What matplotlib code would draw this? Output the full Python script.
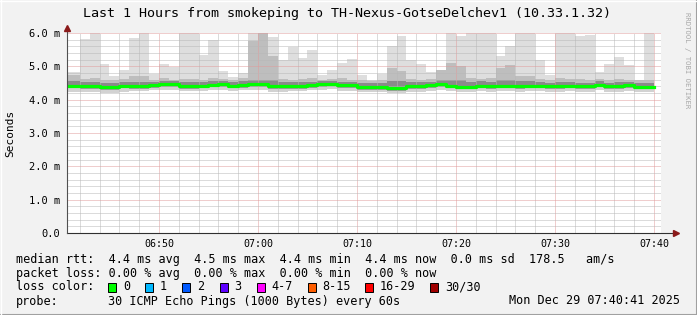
import numpy as np
import matplotlib
matplotlib.use('Agg')
import matplotlib.pyplot as plt
from matplotlib.patches import Rectangle
from matplotlib.ticker import MultipleLocator, FixedLocator

# one value per minute, minute 0 = 06:40
tops = [4.82, 4.82, 5.83, 6.0, 5.08, 4.72, 4.9, 5.86, 6.0, 4.78,
        5.08, 4.97, 6.0, 6.0, 5.35, 5.8, 4.87, 4.68, 4.8, 6.0,
        6.0, 5.88, 5.2, 5.57, 5.25, 5.5, 4.73, 4.9, 5.1, 5.22,
        4.75, 4.6, 4.78, 5.62, 5.92, 5.18, 5.08, 4.84, 4.87, 6.0,
        5.9, 6.0, 6.0, 6.0, 5.3, 5.6, 6.0, 6.0, 5.18, 4.75,
        6.0, 6.0, 5.92, 5.95, 4.84, 5.08, 5.27, 5.05, 4.6, 6.0]
upper = [4.75, 4.75, 4.62, 4.66, 4.6, 4.58, 4.62, 4.7, 4.7, 4.6,
         4.64, 4.6, 4.62, 4.62, 4.6, 4.65, 4.62, 4.6, 4.64, 5.77,
         6.0, 5.3, 4.62, 4.6, 4.62, 4.64, 4.6, 4.62, 4.65, 4.6,
         4.58, 4.56, 4.58, 4.95, 4.85, 4.62, 4.6, 4.62, 4.9, 5.1,
         5.0, 4.66, 4.62, 4.64, 4.95, 5.05, 4.7, 4.7, 4.62, 4.6,
         4.65, 4.62, 4.62, 4.6, 4.62, 4.6, 4.62, 4.6, 4.58, 4.6]
dark = [4.55, 4.55, 4.52, 4.52, 4.5, 4.5, 4.53, 4.53, 4.54, 4.54,
        4.56, 4.56, 4.52, 4.52, 4.53, 4.55, 4.57, 4.53, 4.55, 4.6,
        4.6, 4.58, 4.52, 4.52, 4.52, 4.54, 4.56, 4.57, 4.54, 4.53,
        4.5, 4.49, 4.5, 4.56, 4.55, 4.52, 4.52, 4.54, 4.58, 4.6,
        4.58, 4.52, 4.55, 4.53, 4.58, 4.6, 4.55, 4.55, 4.53, 4.51,
        4.53, 4.53, 4.51, 4.5, 4.55, 4.51, 4.52, 4.53, 4.5, 4.5]
median = [4.42, 4.42, 4.40, 4.40, 4.37, 4.37, 4.42, 4.40, 4.40, 4.44,
          4.47, 4.47, 4.40, 4.40, 4.42, 4.45, 4.47, 4.42, 4.44, 4.47,
          4.47, 4.40, 4.40, 4.41, 4.41, 4.44, 4.47, 4.48, 4.43, 4.43,
          4.38, 4.38, 4.38, 4.35, 4.35, 4.40, 4.40, 4.43, 4.47, 4.42,
          4.39, 4.39, 4.42, 4.40, 4.42, 4.42, 4.40, 4.42, 4.42, 4.40,
          4.40, 4.42, 4.40, 4.40, 4.45, 4.40, 4.40, 4.43, 4.39, 4.39]
lower = [4.34, 4.34, 4.33, 4.33, 4.3, 4.3, 4.34, 4.33, 4.33, 4.36,
         4.38, 4.38, 4.33, 4.33, 4.34, 4.37, 4.39, 4.34, 4.36, 4.38,
         4.38, 4.32, 4.32, 4.33, 4.33, 4.36, 4.39, 4.4, 4.35, 4.35,
         4.3, 4.3, 4.3, 4.27, 4.27, 4.32, 4.32, 4.35, 4.39, 4.34,
         4.31, 4.31, 4.34, 4.32, 4.34, 4.34, 4.32, 4.34, 4.34, 4.32,
         4.32, 4.34, 4.32, 4.32, 4.37, 4.32, 4.32, 4.35, 4.31, 4.31]
bottom = [4.22, 4.22, 4.24, 4.24, 4.2, 4.2, 4.22, 4.25, 4.25, 4.28,
          4.3, 4.3, 4.25, 4.25, 4.26, 4.28, 4.3, 4.26, 4.28, 4.3,
          4.3, 4.24, 4.24, 4.25, 4.25, 4.28, 4.3, 4.32, 4.27, 4.27,
          4.22, 4.22, 4.22, 4.2, 4.2, 4.24, 4.24, 4.27, 4.3, 4.26,
          4.24, 4.24, 4.26, 4.24, 4.26, 4.26, 4.24, 4.26, 4.26, 4.24,
          4.24, 4.26, 4.24, 4.24, 4.28, 4.24, 4.24, 4.27, 4.23, 4.23]

xtick_minutes = [10, 20, 30, 40, 50, 60]
xtick_labels = ['06:50', '07:00', '07:10', '07:20', '07:30', '07:40']
ytick_vals = [0, 1, 2, 3, 4, 5, 6]
ytick_labels = ['0.0', '1.0 m', '2.0 m', '3.0 m', '4.0 m', '5.0 m', '6.0 m']

title = 'Last 1 Hours from smokeping to TH-Nexus-GotseDelchev1 (10.33.1.32)'
rtt_line = 'median rtt:  4.4 ms avg  4.5 ms max  4.4 ms min  4.4 ms now  0.0 ms sd  178.5   am/s'
loss_line = 'packet loss: 0.00 % avg  0.00 % max  0.00 % min  0.00 % now'
probe_text = '30 ICMP Echo Pings (1000 Bytes) every 60s'
stamp = 'Mon Dec 29 07:40:41 2025'
loss_labels = ['0', '1', '2', '3', '4-7', '8-15', '16-29', '30/30']
loss_colors = ['#00ff00', '#00b8ff', '#0059ff', '#5e00ff', '#ff00fe', '#ff5e00', '#ff0000', '#a00000']

W, H = 697, 315
mono = 'DejaVu Sans Mono'
plt.rcParams['font.family'] = mono

def fx(x):
    return x / W

def fy(y):
    return 1 - y / H

fig = plt.figure(figsize=(W / 100, H / 100), dpi=100, facecolor='#f2f2f2')
ax = fig.add_axes([fx(66.7), fy(233), (660.7 - 66.7) / W, 200 / H])
ax.set_facecolor('white')

n = len(tops)
x = np.arange(n)
tops = np.array(tops); upper = np.array(upper); dark = np.array(dark)
median = np.array(median); lower = np.array(lower); bottom = np.array(bottom)

# smoke bands, light at the edges and darker near the median
kw = dict(width=1.0, align='edge', linewidth=0, zorder=1)
ax.bar(x, tops - upper, bottom=upper, color='#dedede', **kw)
ax.bar(x, upper - dark, bottom=dark, color='#bebebe', **kw)
ax.bar(x, dark - median, bottom=median, color='#8a8a8a', **kw)
ax.bar(x, median - lower, bottom=lower, color='#9c9c9c', **kw)
ax.bar(x, lower - bottom, bottom=bottom, color='#d2d2d2', **kw)

ax.step(np.append(x, n), np.append(median, median[-1]), where='post',
        color=loss_colors[0], linewidth=2.3, zorder=3)

ax.set_xlim(0.68, 60.68)
ax.set_ylim(0, 6)
ax.xaxis.set_major_locator(FixedLocator(xtick_minutes))
ax.set_xticklabels(xtick_labels)
ax.xaxis.set_minor_locator(MultipleLocator(2))
ax.yaxis.set_major_locator(FixedLocator(ytick_vals))
ax.set_yticklabels(ytick_labels)
ax.yaxis.set_minor_locator(MultipleLocator(0.2))
ax.tick_params(which='both', length=0)
ax.tick_params(axis='x', labelsize=7.2, pad=4, colors='#000000')
ax.tick_params(axis='y', labelsize=7.5, pad=4.5, colors='#000000')

ax.set_axisbelow(False)
ax.grid(which='minor', color='#b8b8b8', linestyle=(0, (1, 1)), linewidth=0.72)
ax.grid(which='major', color='#e09c9c', linestyle=(0, (1, 1)), linewidth=0.72)
for s in ax.spines.values():
    s.set_visible(False)

# axis lines with arrows
ax.plot([0, 1 + 15 / 594], [0, 0], transform=ax.transAxes, color='#303030',
        linewidth=0.8, clip_on=False, zorder=4)
ax.plot([0, 0], [0, 1 + 5 / 200], transform=ax.transAxes, color='#505050',
        linewidth=0.8, clip_on=False, zorder=4)
ax.plot([1 + 15 / 594], [0], transform=ax.transAxes, marker='>', markersize=4,
        color='#8b1a1a', clip_on=False, zorder=5)
ax.plot([0], [1 + 5 / 200], transform=ax.transAxes, marker='^', markersize=4,
        color='#8b1a1a', clip_on=False, zorder=5)

fig.text(fx(347), fy(14), title, fontsize=9.6, ha='center', va='center')
fig.text(fx(10), fy(133), 'Seconds', fontsize=8, rotation=90, ha='center', va='center')
fig.text(fx(687), fy(60), 'RRDTOOL / TOBI OETIKER', fontsize=5.2, rotation=270,
         ha='center', va='center', color='#a8a8a8')

fs = 8.5
fig.text(fx(16), fy(259), rtt_line, fontsize=fs, ha='left', va='center')
fig.text(fx(16), fy(273), loss_line, fontsize=fs, ha='left', va='center')
fig.text(fx(16), fy(287), 'loss color:', fontsize=fs, ha='left', va='center')
fig.text(fx(16), fy(301), 'probe:', fontsize=fs, ha='left', va='center')
fig.text(fx(107.5), fy(301), probe_text, fontsize=fs, ha='left', va='center')
fig.text(fx(680), fy(301), stamp, fontsize=fs, ha='right', va='center')

box_x = [108, 145, 182, 219.5, 256.5, 307.5, 365, 430]
for bx, lab, col in zip(box_x, loss_labels, loss_colors):
    fig.patches.append(Rectangle((fx(bx), fy(291.5)), 8.4 / W, 9 / H,
                                 transform=fig.transFigure, facecolor=col,
                                 edgecolor='black', linewidth=0.7))
    fig.text(fx(bx + 15), fy(287), lab, fontsize=fs, ha='left', va='center')

# image border
fig.add_artist(plt.Line2D([0, 1], [fy(314.5)] * 2, transform=fig.transFigure, color='#a0a0a0', linewidth=1.5))
fig.add_artist(plt.Line2D([fx(696.5)] * 2, [0, 1], transform=fig.transFigure, color='#a0a0a0', linewidth=1.5))
fig.add_artist(plt.Line2D([0, 1], [fy(0.5)] * 2, transform=fig.transFigure, color='#ffffff', linewidth=1.0))
fig.add_artist(plt.Line2D([fx(0.5)] * 2, [0, 1], transform=fig.transFigure, color='#ffffff', linewidth=1.0))

fig.savefig('out.png', dpi=100, facecolor=fig.get_facecolor())
